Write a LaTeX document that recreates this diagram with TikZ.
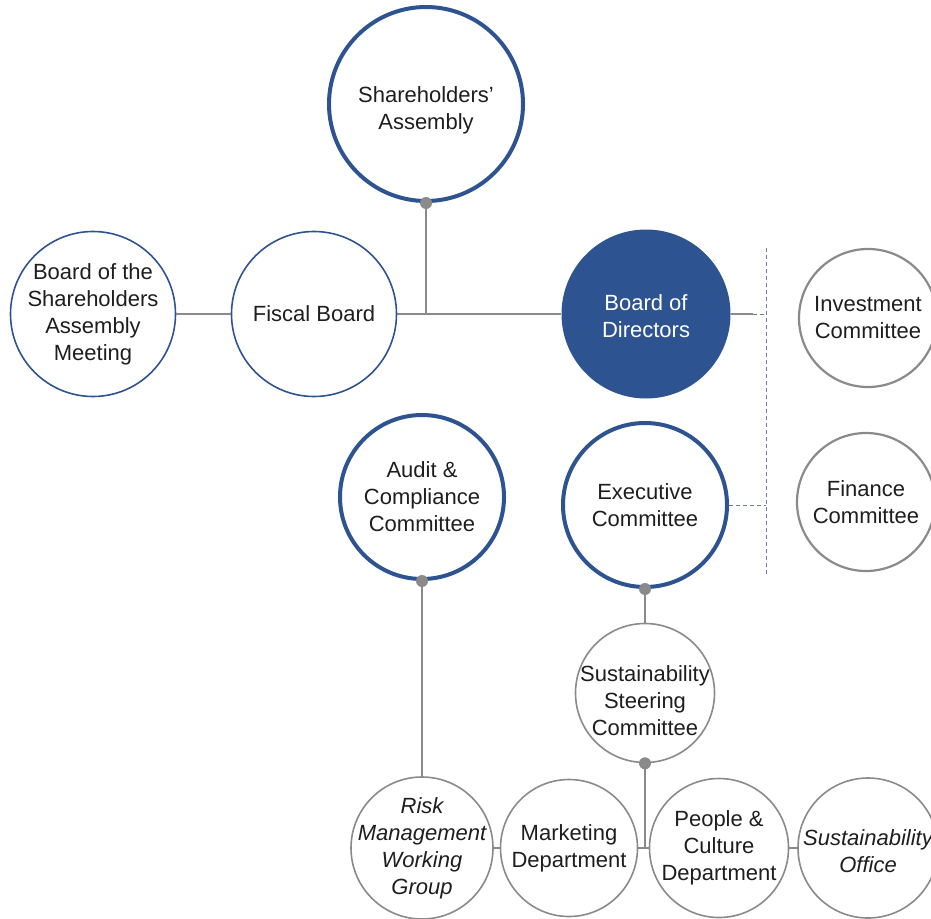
\documentclass[tikz,border=0pt]{standalone}
\usepackage{fontspec}
\setmainfont{Liberation Sans}
\definecolor{orgblue}{HTML}{2E5391}
\definecolor{orggray}{HTML}{8A8A8A}
\definecolor{orgdash}{HTML}{6E7C9A}
\definecolor{orgtext}{HTML}{1E1E1E}

\begin{document}
\begin{tikzpicture}[x=1pt, y=-1pt,
    unit/.style={circle, inner sep=0pt},
    major/.style={unit, draw=orgblue, line width=4pt},
    minor/.style={unit, draw=orgblue, line width=1.6pt},
    board/.style={unit, fill=orgblue},
    side/.style={unit, draw=orggray, line width=2.2pt},
    dept/.style={unit, draw=orggray, line width=1.6pt},
    every label/.style={align=center, inner sep=0pt, text=orgtext,
        font=\fontsize{22}{27}\selectfont},
    link/.style={draw=orggray, line width=1.8pt},
    dashlink/.style={draw=orgdash, line width=1pt, dash pattern=on 4pt off 3pt},
    joint/.style={fill=orggray}]

    \useasboundingbox (0,0) rectangle (931,918);
    \clip (0,0) rectangle (931,918);

    % Declare the bodies
    \node[major, minimum size=194, label={[yshift=-6pt]center:Shareholders'\\Assembly}] at (426, 104) (sha) {};
    \node[minor, minimum size=165, label={center:Board of the\\Shareholders\\Assembly\\Meeting}] at (93, 314) (bsam) {};
    \node[minor, minimum size=165, label={center:Fiscal Board}] at (314, 314) (fis) {};
    \node[board, minimum size=169, label={[text=white, yshift=-2pt]center:Board of\\Directors}] at (646, 314) (bod) {};
    \node[side, minimum size=138, label={center:Investment\\Committee}] at (868, 318) (inv) {};
    \node[side, minimum size=138, label={center:Finance\\Committee}] at (866, 502) (fin) {};
    \node[major, minimum size=164, label={center:Audit \&\\Compliance\\Committee}] at (422, 497) (aud) {};
    \node[major, minimum size=164, label={center:Executive\\Committee}] at (645, 505) (exe) {};
    \node[dept, minimum size=139, label={[yshift=-8pt]center:Sustainability\\Steering\\Committee}] at (645, 693) (ssc) {};

    % Declare the departments
    \node[dept, minimum size=142, label={center:\itshape Risk\\\itshape Management\\\itshape Working\\\itshape Group}] at (422, 848) (rmw) {};
    \node[dept, minimum size=137, label={center:Marketing\\Department}] at (569, 848) (mkt) {};
    \node[dept, minimum size=139, label={center:People \&\\Culture\\Department}] at (719, 848) (pcd) {};
    \node[dept, minimum size=140, label={[yshift=-3pt]center:\itshape Sustainability\\\itshape Office}] at (868, 848) (sof) {};

    % Declare edges
    \draw[link] (bsam) -- (fis);
    \draw[link] (fis.east) -- (fis.east -| bod.west);
    \draw[link] (sha.south) -- (sha.south |- fis.east);
    \draw[link] (aud.south) -- (rmw.north);
    \draw[link] (exe.south) -- (ssc.north);
    \draw[link] (ssc.south) -- (ssc.south |- mkt.east);
    \draw[link] (rmw) -- (mkt);
    \draw[link] (mkt) -- (pcd);
    \draw[link] (pcd) -- (sof);

    % Declare dashed edges
    \coordinate (rtop) at (766, 248);
    \coordinate (rbot) at (766, 574);
    \draw[dashlink] (rtop) -- (rbot);
    \draw[link, line width=1.2pt] (bod.east) -- ++(22, 0) coordinate (bodend);
    \draw[dashlink] (bodend) -- (bodend -| rtop);
    \draw[dashlink] (exe.east) -- (exe.east -| rtop);

    % Declare joints
    \fill[joint] (sha.south) circle (6pt);
    \fill[joint] (aud.south) circle (6pt);
    \fill[joint] (exe.south) circle (6pt);
    \fill[joint] (ssc.south) circle (6pt);

\end{tikzpicture}
\end{document}
